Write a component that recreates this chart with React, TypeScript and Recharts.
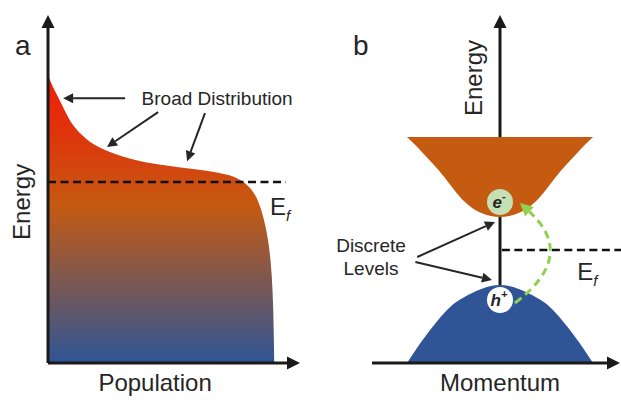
import React from 'react';
import { AreaChart, ComposedChart, Area, XAxis, YAxis, ReferenceLine, ReferenceDot } from 'recharts';

const FONT = '"Liberation Sans", Arial, sans-serif';
const INK = '#262626';

// panel a: population at each energy (arbitrary units)
const energyA = [0, 9.48, 20.98, 29.6, 35.34, 41.09, 45.4, 48.28, 50.86, 52.59, 54.02, 55.17, 56.32, 57.47, 58.91, 60.63, 62.64, 65.52, 68.39, 71.26, 74.14, 77.01, 79.89, 82.76];
const populationA = [89.76, 89.56, 89.09, 88.29, 87.3, 85.71, 83.93, 82.14, 79.37, 76.19, 71.43, 63.49, 51.19, 40.48, 31.75, 24.6, 18.65, 13.49, 9.92, 7.54, 5.56, 3.57, 1.59, 0];
const fermiA = 52.0;

// panel b: band edges vs momentum
const momentumB = [-1, -0.9, -0.8, -0.7, -0.6, -0.5, -0.4, -0.3, -0.2, -0.1, 0, 0.1, 0.2, 0.3, 0.4, 0.5, 0.6, 0.7, 0.8, 0.9, 1];
const conductionB = [1.13, 1.04, 0.94, 0.84, 0.73, 0.61, 0.5, 0.42, 0.37, 0.34, 0.33, 0.34, 0.37, 0.42, 0.5, 0.61, 0.73, 0.84, 0.94, 1.04, 1.13];
const valenceB = [-1.13, -0.99, -0.86, -0.74, -0.63, -0.54, -0.48, -0.43, -0.39, -0.36, -0.35, -0.36, -0.39, -0.43, -0.48, -0.54, -0.63, -0.74, -0.86, -0.99, -1.13];
const bandTop = 1.13;
const bandBottom = -1.13;
const electronE = 0.48;
const holeE = -0.5;
const fermiB = 0;

const dataA = energyA.map((energy, i) => ({ energy, population: populationA[i] }));
const dataB = momentumB.map((k, i) => ({ k, cb: [conductionB[i], bandTop], vb: [bandBottom, valenceB[i]] }));

// line with a filled arrow head at the second point
const arrow = (color = INK, w = 2, head = 11) => (p: any) => {
  const { x1, y1, x2, y2 } = p;
  const a = Math.atan2(y2 - y1, x2 - x1);
  const bx = x2 - head * Math.cos(a);
  const by = y2 - head * Math.sin(a);
  const hw = head * 0.5;
  const pts = `${x2},${y2} ${bx - hw * Math.sin(a)},${by + hw * Math.cos(a)} ${bx + hw * Math.sin(a)},${by - hw * Math.cos(a)}`;
  return (
    <g>
      <line x1={x1} y1={y1} x2={bx} y2={by} stroke={color} strokeWidth={w} />
      <polygon points={pts} fill={color} />
    </g>
  );
};

// dashed curved arrow bulging to the right of the chord
const curvedArrow = (p: any) => {
  const { x1, y1, x2, y2 } = p;
  const dx = x2 - x1, dy = y2 - y1;
  const len = Math.hypot(dx, dy);
  const cx = (x1 + x2) / 2 + (-dy / len) * 60;
  const cy = (y1 + y2) / 2 + (dx / len) * 60;
  const a = Math.atan2(y2 - cy, x2 - cx);
  const head = 13;
  const bx = x2 - head * Math.cos(a);
  const by = y2 - head * Math.sin(a);
  const hw = 6.5;
  const pts = `${x2},${y2} ${bx - hw * Math.sin(a)},${by + hw * Math.cos(a)} ${bx + hw * Math.sin(a)},${by - hw * Math.cos(a)}`;
  return (
    <g>
      <path d={`M${x1},${y1} Q${cx},${cy} ${bx},${by}`} fill="none" stroke="#92d050" strokeWidth={3} strokeDasharray="8 5" />
      <polygon points={pts} fill="#92d050" />
    </g>
  );
};

const label = (text: React.ReactNode, size: number, anchor = 'middle', rotate = false) => (p: any) => (
  <text
    x={p.cx}
    y={p.cy}
    fontSize={size}
    fontFamily={FONT}
    fill={INK}
    textAnchor={anchor}
    transform={rotate ? `rotate(-90 ${p.cx} ${p.cy})` : undefined}
  >
    {text}
  </text>
);

const fermiText = (
  <>
    E<tspan fontSize={15} fontStyle="italic" dy={6}>f</tspan>
  </>
);

const carrier = (fill: string, letter: string, sign: string) => (p: any) => (
  <g>
    <circle cx={p.cx} cy={p.cy} r={13} fill={fill} />
    <text x={p.cx - 1} y={p.cy + 6} fontSize={17} fontWeight="bold" fontStyle="italic" fontFamily={FONT} fill={INK} textAnchor="middle">
      {letter}
      <tspan fontSize={11} dy={-8}>{sign}</tspan>
    </text>
  </g>
);

const PanelA = () => (
  <AreaChart width={310} height={400} data={dataA} layout="vertical" margin={{ top: 0, right: 0, bottom: 0, left: 0 }}>
    <defs>
      <linearGradient id="popFill" x1="0" y1="0" x2="0" y2="1">
        <stop offset="0" stopColor="#f21a08" />
        <stop offset="0.3" stopColor="#d5420e" />
        <stop offset="0.45" stopColor="#c55a11" />
        <stop offset="1" stopColor="#2f5597" />
      </linearGradient>
    </defs>
    <XAxis type="number" domain={[-19.05, 103.97]} hide allowDataOverflow />
    <YAxis type="number" dataKey="energy" domain={[-10.63, 104.31]} reversed hide allowDataOverflow />
    <Area
      dataKey="population"
      type="monotone"
      baseValue={0}
      stroke="none"
      fill="url(#popFill)"
      fillOpacity={1}
      dot={false}
      activeDot={false}
      isAnimationActive={false}
    />
    <ReferenceLine segment={[{ x: 0, y: 0 }, { x: 0, y: 100 }]} shape={arrow('#1a1a1a', 3, 13)} />
    <ReferenceLine segment={[{ x: 0, y: 0 }, { x: 100, y: 0 }]} shape={arrow('#1a1a1a', 3, 13)} />
    <ReferenceLine segment={[{ x: 0, y: fermiA }, { x: 94.4, y: fermiA }]} stroke="#111" strokeWidth={2.5} strokeDasharray="8 4.5" />
    <ReferenceLine segment={[{ x: 30.6, y: 76.1 }, { x: 6.0, y: 76.1 }]} shape={arrow(INK, 2, 10)} />
    <ReferenceLine segment={[{ x: 43.7, y: 72.1 }, { x: 23.4, y: 62.1 }]} shape={arrow(INK, 2, 10)} />
    <ReferenceLine segment={[{ x: 62.3, y: 71.8 }, { x: 55.2, y: 58.0 }]} shape={arrow(INK, 2, 10)} />
    <ReferenceDot x={67.1} y={74.1} r={0} shape={label('Broad Distribution', 19)} />
    <ReferenceDot x={88.1} y={42.5} r={0} shape={label(fermiText, 24, 'start')} />
    <ReferenceDot x={-7.14} y={46.3} r={0} shape={label('Energy', 24, 'middle', true)} />
    <ReferenceDot x={42.5} y={-8.05} r={0} shape={label('Population', 24)} />
    <ReferenceDot x={-13.1} y={88.5} r={0} shape={label('a', 28, 'start')} />
  </AreaChart>
);

const PanelB = () => (
  <ComposedChart width={311} height={400} data={dataB} margin={{ top: 0, right: 0, bottom: 0, left: 0 }}>
    <XAxis type="number" dataKey="k" domain={[-2.043, 1.301]} hide allowDataOverflow />
    <YAxis type="number" domain={[-1.5, 2.5]} hide allowDataOverflow />
    <ReferenceLine segment={[{ x: 0, y: bandTop }, { x: 0, y: 2.35 }]} shape={arrow('#1a1a1a', 3, 13)} />
    <ReferenceLine segment={[{ x: 0, y: valenceB[10] }, { x: 0, y: conductionB[10] }]} stroke="#1a1a1a" strokeWidth={3} />
    <Area dataKey="cb" type="monotone" stroke="none" fill="#c55a11" fillOpacity={1} dot={false} activeDot={false} isAnimationActive={false} />
    <Area dataKey="vb" type="monotone" stroke="none" fill="#2f5597" fillOpacity={1} dot={false} activeDot={false} isAnimationActive={false} />
    <ReferenceLine segment={[{ x: -1.376, y: bandBottom }, { x: 1.29, y: bandBottom }]} shape={arrow('#1a1a1a', 3, 13)} />
    <ReferenceLine segment={[{ x: 0.02, y: fermiB }, { x: 1.301, y: fermiB }]} stroke="#111" strokeWidth={2.5} strokeDasharray="8 4.5" />
    <ReferenceLine segment={[{ x: -0.89, y: -0.07 }, { x: -0.054, y: 0.28 }]} shape={arrow(INK, 2, 10)} />
    <ReferenceLine segment={[{ x: -0.91, y: -0.12 }, { x: -0.086, y: -0.3 }]} shape={arrow(INK, 2, 10)} />
    <ReferenceLine segment={[{ x: 0.16, y: -0.53 }, { x: 0.215, y: 0.47 }]} shape={curvedArrow} />
    <ReferenceDot x={0} y={electronE} r={13} shape={carrier('#c5e0b4', 'e', '-')} />
    <ReferenceDot x={0} y={holeE} r={13} shape={carrier('#ffffff', 'h', '+')} />
    <ReferenceDot x={0.83} y={-0.3} r={0} shape={label(fermiText, 24, 'start')} />
    <ReferenceDot x={-1.387} y={-0.02} r={0} shape={label('Discrete', 19)} />
    <ReferenceDot x={-1.387} y={-0.25} r={0} shape={label('Levels', 19)} />
    <ReferenceDot x={-0.194} y={1.72} r={0} shape={label('Energy', 24, 'middle', true)} />
    <ReferenceDot x={0} y={-1.41} r={0} shape={label('Momentum', 24)} />
    <ReferenceDot x={-1.58} y={1.95} r={0} shape={label('b', 28, 'start')} />
  </ComposedChart>
);

export default function App() {
  return (
    <div style={{ position: 'absolute', left: 0, top: 0, width: 621, height: 400, background: '#fff', overflow: 'hidden' }}>
      <div style={{ position: 'absolute', left: 0, top: 0 }}>
        <PanelA />
      </div>
      <div style={{ position: 'absolute', left: 310, top: 0 }}>
        <PanelB />
      </div>
    </div>
  );
}
